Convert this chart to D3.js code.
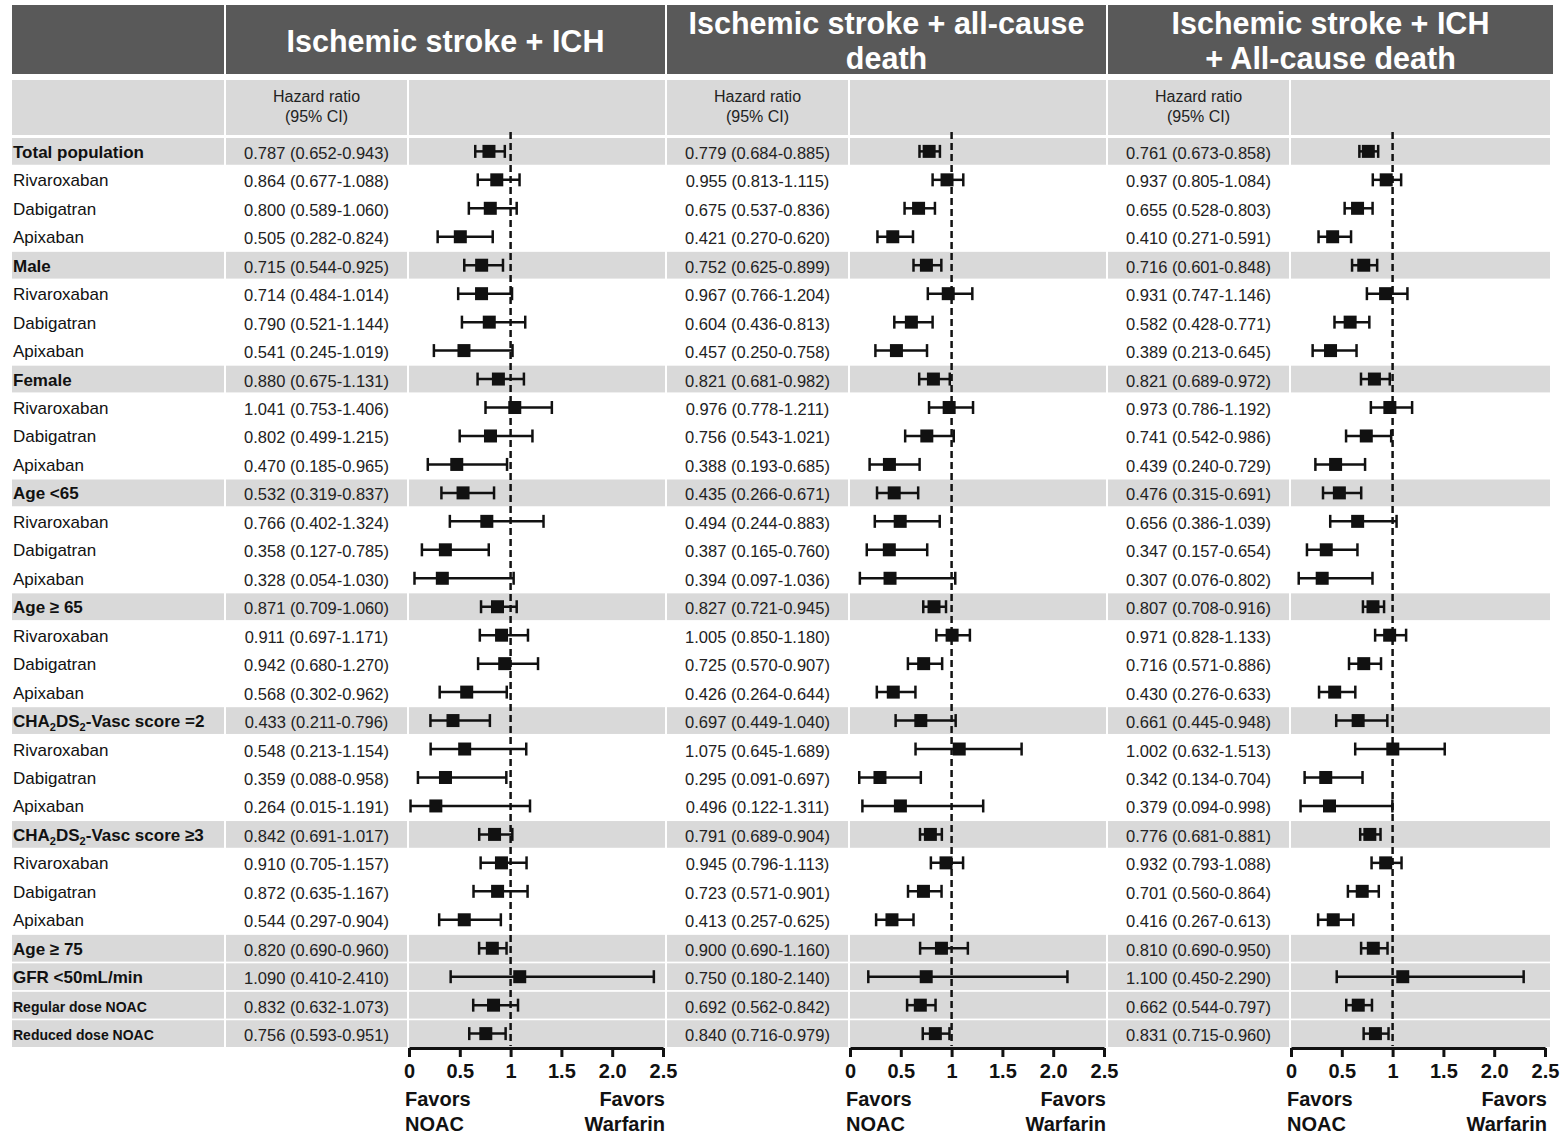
<!DOCTYPE html>
<html>
<head>
<meta charset="utf-8">
<script src="https://cdn.jsdelivr.net/npm/d3@7"></script>
<style>
  body { margin: 0; background: #fff; }
  text { font-family: "Liberation Sans", Arial, sans-serif; }
</style>
</head>
<body>
<div id="forest"></div>
<script>
// forest plot, three outcomes side by side

var rowLabels = ["Total population", "Rivaroxaban", "Dabigatran", "Apixaban",
    "Male", "Rivaroxaban", "Dabigatran", "Apixaban",
    "Female", "Rivaroxaban", "Dabigatran", "Apixaban",
    "Age <65", "Rivaroxaban", "Dabigatran", "Apixaban",
    "Age \u2265 65", "Rivaroxaban", "Dabigatran", "Apixaban",
    "CHA_2DS_2-Vasc score =2", "Rivaroxaban", "Dabigatran", "Apixaban",
    "CHA_2DS_2-Vasc score \u22653", "Rivaroxaban", "Dabigatran", "Apixaban",
    "Age \u2265 75", "GFR <50mL/min", "Regular dose NOAC", "Reduced dose NOAC"];
// 1 = subgroup header row (bold, shaded), 2 = small bold shaded row
var rowType = [1,0,0,0, 1,0,0,0, 1,0,0,0, 1,0,0,0, 1,0,0,0, 1,0,0,0, 1,0,0,0, 1,1,2,2];

var panelTitles = [["Ischemic stroke + ICH"],
    ["Ischemic stroke + all-cause", "death"],
    ["Ischemic stroke + ICH", "+ All-cause death"]];

var tickValues = [0, 0.5, 1, 1.5, 2, 2.5];
var tickLabels = ["0", "0.5", "1", "1.5", "2.0", "2.5"];

// Ischemic stroke + ICH
var hr1 = [0.787,0.864,0.800,0.505, 0.715,0.714,0.790,0.541, 0.880,1.041,0.802,0.470, 0.532,0.766,0.358,0.328,
    0.871,0.911,0.942,0.568, 0.433,0.548,0.359,0.264, 0.842,0.910,0.872,0.544, 0.820,1.090,0.832,0.756];
var lo1 = [0.652,0.677,0.589,0.282, 0.544,0.484,0.521,0.245, 0.675,0.753,0.499,0.185, 0.319,0.402,0.127,0.054,
    0.709,0.697,0.680,0.302, 0.211,0.213,0.088,0.015, 0.691,0.705,0.635,0.297, 0.690,0.410,0.632,0.593];
var hi1 = [0.943,1.088,1.060,0.824, 0.925,1.014,1.144,1.019, 1.131,1.406,1.215,0.965, 0.837,1.324,0.785,1.030,
    1.060,1.171,1.270,0.962, 0.796,1.154,0.958,1.191, 1.017,1.157,1.167,0.904, 0.960,2.410,1.073,0.951];

// Ischemic stroke + all-cause death
var hr2 = [0.779,0.955,0.675,0.421, 0.752,0.967,0.604,0.457, 0.821,0.976,0.756,0.388, 0.435,0.494,0.387,0.394,
    0.827,1.005,0.725,0.426, 0.697,1.075,0.295,0.496, 0.791,0.945,0.723,0.413, 0.900,0.750,0.692,0.840];
var lo2 = [0.684,0.813,0.537,0.270, 0.625,0.766,0.436,0.250, 0.681,0.778,0.543,0.193, 0.266,0.244,0.165,0.097,
    0.721,0.850,0.570,0.264, 0.449,0.645,0.091,0.122, 0.689,0.796,0.571,0.257, 0.690,0.180,0.562,0.716];
var hi2 = [0.885,1.115,0.836,0.620, 0.899,1.204,0.813,0.758, 0.982,1.211,1.021,0.685, 0.671,0.883,0.760,1.036,
    0.945,1.180,0.907,0.644, 1.040,1.689,0.697,1.311, 0.904,1.113,0.901,0.625, 1.160,2.140,0.842,0.979];

// Ischemic stroke + ICH + all-cause death
var hr3 = [0.761,0.937,0.655,0.410, 0.716,0.931,0.582,0.389, 0.821,0.973,0.741,0.439, 0.476,0.656,0.347,0.307,
    0.807,0.971,0.716,0.430, 0.661,1.002,0.342,0.379, 0.776,0.932,0.701,0.416, 0.810,1.100,0.662,0.831];
var lo3 = [0.673,0.805,0.528,0.271, 0.601,0.747,0.428,0.213, 0.689,0.786,0.542,0.240, 0.315,0.386,0.157,0.076,
    0.708,0.828,0.571,0.276, 0.445,0.632,0.134,0.094, 0.681,0.793,0.560,0.267, 0.690,0.450,0.544,0.715];
var hi3 = [0.858,1.084,0.803,0.591, 0.848,1.146,0.771,0.645, 0.972,1.192,0.986,0.729, 0.691,1.039,0.654,0.802,
    0.916,1.133,0.886,0.633, 0.948,1.513,0.704,0.998, 0.881,1.088,0.864,0.613, 0.950,2.290,0.797,0.960];

var panels = [
    {title: panelTitles[0], hr: hr1, lo: lo1, hi: hi1},
    {title: panelTitles[1], hr: hr2, lo: lo2, hi: hi2},
    {title: panelTitles[2], hr: hr3, lo: lo3, hi: hi3}
];

var width = 1563, height = 1136;
var darkGray = "#595959", lightGray = "#d9d9d9", ink = "#111";
var fmt = d3.format(".3f");

var svg = d3.select("#forest")
    .append("svg")
    .attr("width", width)
    .attr("height", height);

svg.append("rect").attr("width", width).attr("height", height).attr("fill", "#fff");

// column layout
var labelX0 = 12, labelX1 = 224;
var panelX = [224, 665, 1106];
var panelRight = [665, 1106, 1553];

var yscale = d3.scaleBand()
    .domain(d3.range(rowLabels.length))
    .range([138, 1047])
    .paddingInner(0.06);
function yc(i) { return yscale(i) + yscale.bandwidth() / 2; }

// header band
svg.append("rect")
    .attr("x", labelX0).attr("y", 5)
    .attr("width", labelX1 - labelX0).attr("height", 69)
    .attr("fill", darkGray);
// sub header, label column
svg.append("rect")
    .attr("x", labelX0).attr("y", 80)
    .attr("width", labelX1 - labelX0).attr("height", 55)
    .attr("fill", lightGray);

// shaded rows in label column
svg.selectAll(".labelband")
    .data(d3.range(rowLabels.length).filter(function (i) { return rowType[i] > 0; }))
    .enter()
    .append("rect")
    .attr("x", labelX0)
    .attr("y", function (i) { return yscale(i); })
    .attr("width", labelX1 - labelX0)
    .attr("height", yscale.bandwidth())
    .attr("fill", lightGray);

// row labels, with subscripts for CHA2DS2
var labels = svg.selectAll(".rowlabel")
    .data(rowLabels)
    .enter()
    .append("text")
    .attr("x", labelX0 + 1)
    .attr("y", function (d, i) { return yc(i) + 6.5; })
    .attr("font-size", function (d, i) { return rowType[i] == 2 ? 14 : 17; })
    .attr("font-weight", function (d, i) { return rowType[i] > 0 ? "bold" : "normal"; })
    .attr("fill", ink);
labels.each(function (d) {
    var t = d3.select(this);
    var parts = d.split(/_(\d)/);
    parts.forEach(function (p, k) {
        if (k % 2 == 1) {
            t.append("tspan").attr("font-size", 11).attr("baseline-shift", "-4").text(p);
        } else if (p.length) {
            t.append("tspan").text(p);
        }
    });
});

panels.forEach(function (pd, p) {
    var base = panelX[p];
    var right = panelRight[p];
    var hrX0 = base + 2, hrX1 = base + 183;
    var plX0 = base + 185, plX1 = right - (p == 2 ? 3 : 0);
    var g = svg.append("g");

    var xscale = d3.scaleLinear()
        .domain([0, 2.5])
        .range([base + 185, base + 439]);

    // header
    g.append("rect")
        .attr("x", base + 2).attr("y", 5)
        .attr("width", right - base - 2).attr("height", 69)
        .attr("fill", darkGray);
    var cx = (base + 2 + right) / 2;
    pd.title.forEach(function (line, k) {
        g.append("text")
            .attr("x", cx)
            .attr("y", pd.title.length == 1 ? 52 : 34 + k * 35)
            .attr("text-anchor", "middle")
            .attr("font-size", 30.5)
            .attr("font-weight", "bold")
            .attr("fill", "#fff")
            .text(line);
    });

    // sub header
    g.append("rect")
        .attr("x", hrX0).attr("y", 80)
        .attr("width", hrX1 - hrX0).attr("height", 55)
        .attr("fill", lightGray);
    g.append("rect")
        .attr("x", plX0).attr("y", 80)
        .attr("width", plX1 - plX0).attr("height", 55)
        .attr("fill", lightGray);
    ["Hazard ratio", "(95% CI)"].forEach(function (s, k) {
        g.append("text")
            .attr("x", (hrX0 + hrX1) / 2)
            .attr("y", 102 + k * 20)
            .attr("text-anchor", "middle")
            .attr("font-size", 16)
            .attr("fill", "#222")
            .text(s);
    });

    // shaded rows
    var shaded = d3.range(rowLabels.length).filter(function (i) { return rowType[i] > 0; });
    g.selectAll(".hrband")
        .data(shaded)
        .enter()
        .append("rect")
        .attr("x", hrX0)
        .attr("y", function (i) { return yscale(i); })
        .attr("width", hrX1 - hrX0)
        .attr("height", yscale.bandwidth())
        .attr("fill", lightGray);
    g.selectAll(".plotband")
        .data(shaded)
        .enter()
        .append("rect")
        .attr("x", plX0)
        .attr("y", function (i) { return yscale(i); })
        .attr("width", plX1 - plX0)
        .attr("height", yscale.bandwidth())
        .attr("fill", lightGray);

    // hazard ratio text
    g.selectAll(".hrtext")
        .data(pd.hr)
        .enter()
        .append("text")
        .attr("x", (hrX0 + hrX1) / 2)
        .attr("y", function (d, i) { return yc(i) + 7.5; })
        .attr("text-anchor", "middle")
        .attr("font-size", 16.5)
        .attr("fill", "#222")
        .text(function (d, i) { return fmt(d) + " (" + fmt(pd.lo[i]) + "-" + fmt(pd.hi[i]) + ")"; });

    // reference line at 1
    g.append("line")
        .attr("x1", xscale(1)).attr("x2", xscale(1))
        .attr("y1", 132).attr("y2", 1046)
        .attr("stroke", ink)
        .attr("stroke-width", 2.5)
        .attr("stroke-dasharray", "7,4");

    // confidence intervals
    var rows = d3.range(pd.hr.length);
    g.selectAll(".ci")
        .data(rows)
        .enter()
        .append("line")
        .attr("x1", function (i) { return xscale(pd.lo[i]); })
        .attr("x2", function (i) { return xscale(pd.hi[i]); })
        .attr("y1", yc).attr("y2", yc)
        .attr("stroke", ink)
        .attr("stroke-width", 2.5);
    g.selectAll(".caplo")
        .data(rows)
        .enter()
        .append("line")
        .attr("x1", function (i) { return xscale(pd.lo[i]); })
        .attr("x2", function (i) { return xscale(pd.lo[i]); })
        .attr("y1", function (i) { return yc(i) - 6.5; })
        .attr("y2", function (i) { return yc(i) + 6.5; })
        .attr("stroke", ink)
        .attr("stroke-width", 2.5);
    g.selectAll(".caphi")
        .data(rows)
        .enter()
        .append("line")
        .attr("x1", function (i) { return xscale(pd.hi[i]); })
        .attr("x2", function (i) { return xscale(pd.hi[i]); })
        .attr("y1", function (i) { return yc(i) - 6.5; })
        .attr("y2", function (i) { return yc(i) + 6.5; })
        .attr("stroke", ink)
        .attr("stroke-width", 2.5);
    g.selectAll(".pt")
        .data(rows)
        .enter()
        .append("rect")
        .attr("x", function (i) { return xscale(pd.hr[i]) - 6.5; })
        .attr("y", function (i) { return yc(i) - 6.5; })
        .attr("width", 13)
        .attr("height", 13)
        .attr("fill", ink);

    // x axis
    var xaxis = d3.axisBottom(xscale)
        .tickValues(tickValues)
        .tickFormat(function (d, i) { return tickLabels[i]; })
        .tickSize(9)
        .tickSizeOuter(0)
        .tickPadding(7);
    var ax = g.append("g")
        .attr("transform", "translate(0,1048)")
        .call(xaxis);
    ax.select(".domain").attr("stroke", ink).attr("stroke-width", 3);
    ax.selectAll(".tick line").attr("stroke", ink).attr("stroke-width", 3);
    ax.selectAll(".tick text")
        .attr("fill", ink)
        .attr("font-size", 20)
        .attr("font-weight", "bold")
        .attr("font-family", "Liberation Sans, Arial, sans-serif");

    // favors labels
    [["Favors", "NOAC"], ["Favors", "Warfarin"]].forEach(function (pair, side) {
        pair.forEach(function (s, k) {
            g.append("text")
                .attr("x", side == 0 ? xscale(0) - 4 : xscale(2.5) + 2)
                .attr("y", 1106 + k * 25)
                .attr("text-anchor", side == 0 ? "start" : "end")
                .attr("font-size", 20)
                .attr("font-weight", "bold")
                .attr("fill", ink)
                .text(s);
        });
    });
});
</script>
</body>
</html>
